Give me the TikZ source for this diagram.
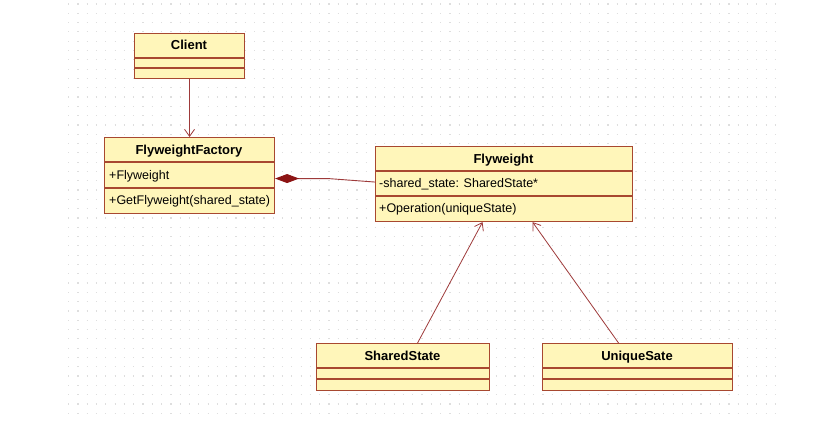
\documentclass[tikz,border=0pt]{standalone}
\usepackage{fontspec}
\setmainfont{Liberation Sans}
\usetikzlibrary{arrows.meta}

\definecolor{boxfill}{RGB}{255,246,186}
\definecolor{boxline}{RGB}{168,72,48}
\definecolor{linkline}{RGB}{158,58,58}
\definecolor{diamondred}{RGB}{140,20,20}
\definecolor{gridgray}{RGB}{222,222,222}

\tikzset{
  classbox/.style={draw=boxline, fill=boxfill, line width=1.1pt, anchor=north west, inner sep=0pt},
  compart/.style={draw=boxline, line width=1.1pt},
  classname/.style={font=\bfseries\fontsize{13}{15}\selectfont, inner sep=0pt, anchor=base},
  member/.style={font=\fontsize{12.5}{15}\selectfont, anchor=base west, inner sep=0pt},
  assoc/.style={draw=linkline, line width=0.8pt, -{Straight Barb[length=7pt,width=10pt,line width=0.8pt]}},
  compos/.style={draw=linkline, line width=0.9pt, {Diamond[length=24pt,width=9pt,fill=diamondred,color=diamondred]}-},
  griddots/.style={draw=gridgray, line width=1.2pt, dash pattern=on 1.2pt off 8.1pt},
}

\begin{document}
\begin{tikzpicture}[x=1pt,y=-1pt]
\useasboundingbox (0,0) rectangle (821,420);
\fill[white] (0,0) rectangle (821,420);

% dotted grid
\foreach \r in {0,...,44}
  \draw[griddots] (68,{4+9.3*\r}) -- (778,{4+9.3*\r});

% Client
\node[classbox, minimum width=110pt, minimum height=45pt] (client) at (134,33) {};
\draw[compart] ([yshift=-25pt]client.north west) -- ([yshift=-25pt]client.north east);
\draw[compart] ([yshift=-35pt]client.north west) -- ([yshift=-35pt]client.north east);
\node[classname] (clientname) at (189,50) {Client};

% FlyweightFactory
\node[classbox, minimum width=170pt, minimum height=76pt] (factory) at (104,137) {};
\draw[compart] ([yshift=-25pt]factory.north west) -- ([yshift=-25pt]factory.north east);
\draw[compart] ([yshift=-51pt]factory.north west) -- ([yshift=-51pt]factory.north east);
\node[classname] (factoryname) at (189,154) {FlyweightFactory};
\node[member] (factoryattr) at (109,179) {+Flyweight};
\node[member] (factoryop) at (109,204.5) {+GetFlyweight(shared\_state)};

% Flyweight
\node[classbox, minimum width=257pt, minimum height=75pt] (flyweight) at (375,146) {};
\draw[compart] ([yshift=-25pt]flyweight.north west) -- ([yshift=-25pt]flyweight.north east);
\draw[compart] ([yshift=-50pt]flyweight.north west) -- ([yshift=-50pt]flyweight.north east);
\node[classname] (flyweightname) at (503.5,163) {Flyweight};
\node[member] (flyweightattr) at (379,187.5) {-shared\_state: SharedState*};
\node[member] (flyweightop) at (379,212.5) {+Operation(uniqueState)};

% SharedState
\node[classbox, minimum width=173pt, minimum height=47pt] (shared) at (316,343) {};
\draw[compart] ([yshift=-25pt]shared.north west) -- ([yshift=-25pt]shared.north east);
\draw[compart] ([yshift=-36pt]shared.north west) -- ([yshift=-36pt]shared.north east);
\node[classname] (sharedname) at (402.5,360) {SharedState};

% UniqueSate
\node[classbox, minimum width=190pt, minimum height=47pt] (unique) at (542,343) {};
\draw[compart] ([yshift=-25pt]unique.north west) -- ([yshift=-25pt]unique.north east);
\draw[compart] ([yshift=-36pt]unique.north west) -- ([yshift=-36pt]unique.north east);
\node[classname] (uniquename) at (637,360) {UniqueSate};

% connectors
\draw[assoc] (client.south) -- (factory.north);
\draw[compos] ([yshift=-3pt]factory.east) -- ++(53,0) -- ([yshift=2pt]flyweight.west);
\draw[assoc] ([xshift=14.5pt]shared.north) -- ([xshift=-21.5pt]flyweight.south);
\draw[assoc] ([xshift=-19pt]unique.north) -- ([xshift=28.5pt]flyweight.south);
\end{tikzpicture}
\end{document}
